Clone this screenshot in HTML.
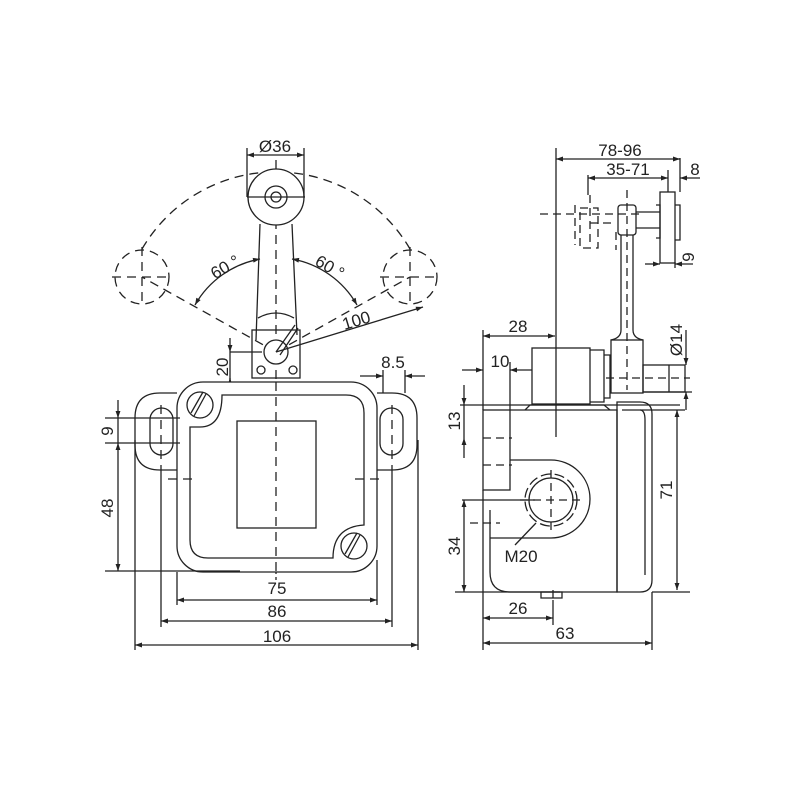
<!DOCTYPE html>
<html><head><meta charset="utf-8"><style>
html,body{margin:0;padding:0;background:#fff}
svg{display:block}
text{font-family:"Liberation Sans",sans-serif;font-size:17px;fill:#222}
</style></head><body>
<svg width="800" height="800" viewBox="0 0 800 800" xmlns="http://www.w3.org/2000/svg">
<defs>
<marker id="a" viewBox="0 0 10 10" refX="10" refY="5" markerWidth="12" markerHeight="7" orient="auto-start-reverse" markerUnits="userSpaceOnUse"><path d="M0,1.5 L10,5 L0,8.5z" fill="#222"/></marker>
</defs>
<g stroke="#222" stroke-width="1.3" fill="none">
<g stroke-dasharray="9,6">
<path d="M 142 249 A 155 155 0 0 1 410 249"/>
<path d="M 276 352 L 142 277 M 276 352 L 410 277"/>
<circle cx="142" cy="277" r="27"/>
<circle cx="410" cy="277" r="27"/>
<path d="M112 277 H172 M142 247 V307 M380 277 H440 M410 247 V307"/>
<path d="M276 160 V580"/>
</g>
<circle cx="276" cy="197" r="28" fill="#fff"/>
<circle cx="276" cy="197" r="11"/>
<circle cx="276" cy="197" r="5"/>
<path d="M247 197 H305"/>
<path d="M260 224 L256 340 M292 224 L297 335" />
<path d="M258 318 Q276 308 294 318"/>
<rect x="252" y="330" width="48" height="48"/>
<circle cx="276" cy="352" r="12" fill="#fff"/>
<path d="M276 352 L295 325 M280 355 L298 328"/>
<circle cx="261" cy="370" r="4"/><circle cx="293" cy="370" r="4"/>
<path d="M260 259 A 94 94 0 0 0 195 305" marker-start="url(#a)" marker-end="url(#a)"/>
<path d="M292 259 A 94 94 0 0 1 357 305" marker-start="url(#a)" marker-end="url(#a)"/>
<path d="M276 352 L423 307" marker-end="url(#a)"/>
<path d="M230 352 H262 M230 338 V352" marker-end="url(#a)"/>
<path d="M230 395 V378" marker-end="url(#a)"/>
<path d="M230 352 V395"/>
<path d="M177 393 H160 Q135 393 135 418 V445 Q135 470 160 470 H177"/>
<path d="M377 393 H392 Q417 393 417 418 V445 Q417 470 392 470 H377"/>
<rect x="150" y="408" width="23" height="47" rx="11.5"/>
<rect x="380" y="408" width="23" height="47" rx="11.5"/>
<rect x="177" y="382" width="200" height="190" rx="26" fill="#fff"/>
<path d="M190 427 V540 Q190 558 208 558 H333 Q333 527 364 525 V413 Q364 395 346 395 H222 Q222 427 200 427 H190Z"/>
<rect x="237" y="421" width="79" height="107"/>
<circle cx="200" cy="405" r="13"/><path d="M194 416 L206 394 M191 413 L203 392"/>
<circle cx="354" cy="546" r="13"/><path d="M348 557 L360 535 M345 554 L357 533"/>
<g stroke-dasharray="9,6"><path d="M276 382 V580 M161 405 V470 M392 405 V470 M168 479 H194 M355 479 H385"/></g>
<path d="M105 418 H180 M105 443 H180 M105 571 H240"/>
<path d="M118 400 V418" marker-end="url(#a)"/>
<path d="M118 443 V571" marker-start="url(#a)" marker-end="url(#a)"/>
<path d="M118 418 V443"/>
<path d="M177 572 V605 M377 560 V605 M161 470 V627 M392 470 V627 M135 440 V650 M418 440 V650"/>
<path d="M177 600 H377" marker-start="url(#a)" marker-end="url(#a)"/>
<path d="M161 621 H392" marker-start="url(#a)" marker-end="url(#a)"/>
<path d="M135 645 H418" marker-start="url(#a)" marker-end="url(#a)"/>
<path d="M383 370 V393 M405 370 V393"/>
<path d="M360 376 H383" marker-end="url(#a)"/><path d="M425 376 H405" marker-end="url(#a)"/>
<path d="M247 148 V197 M304 148 V197"/>
<path d="M247 155 H304" marker-start="url(#a)" marker-end="url(#a)"/>

<path d="M556 148 V437"/>
<rect x="532" y="348" width="58" height="56"/>
<path d="M590 350 H604 V402 H590 M604 355 H610 V398 H604"/>
<path d="M525 410 L530 405 H604 L610 410"/>
<rect x="618" y="205" width="18" height="30" rx="3"/>
<path d="M621 235 V330 Q621 338 611 340 M633 235 V330 Q633 338 643 340"/>
<rect x="611" y="340" width="32" height="53"/>
<rect x="643" y="365" width="42" height="27"/>
<path d="M669 365 V392"/>
<rect x="660" y="192" width="15" height="71"/>
<path d="M636 212 H660 M636 228 H660 M656 205 H660 V238 H656 M675 205 H680 V240 H675"/>
<g stroke-dasharray="8,5">
<path d="M627 190 V390 M540 214 H640 M606 378 H690 M590 223 H612 M575 205 V245 M590 195 V245 M616 232 V250"/>
<rect x="580" y="208" width="18" height="40"/>
</g>
<rect x="483" y="410" width="27" height="80"/>
<path d="M510 410 H617 V592 H510 Q490 592 490 572 V510"/>
<path d="M510 460 H551 A39 39 0 0 1 551 538 H490"/>
<circle cx="551" cy="500" r="22"/>
<circle cx="551" cy="500" r="26" stroke-dasharray="10,4"/>
<path d="M541 592 H562 V598 H541Z"/>
<path d="M617 402 H640 Q652 402 652 414 V580 Q652 592 640 592 H617Z"/>
<path d="M640 410 Q645 410 645 420 V575"/>
<g stroke-dasharray="8,5"><path d="M520 500 H585 M551 470 V530 M483 438 H512 M483 465 H512 M470 523 H500 M553 590 V600"/></g>
<path d="M536 523 L515 545"/>
<path d="M556 159 H680" marker-start="url(#a)" marker-end="url(#a)"/>
<path d="M680 158 V192"/>
<path d="M588 178 H668" marker-start="url(#a)" marker-end="url(#a)"/>
<path d="M668 170 V192 M588 175 V195"/>
<path d="M700 178 H680" marker-end="url(#a)"/>
<path d="M645 264 H660" marker-end="url(#a)"/><path d="M693 264 H675" marker-end="url(#a)"/>
<path d="M675 262 V268"/>
<path d="M686 330 V365" marker-end="url(#a)"/><path d="M686 410 V392" marker-end="url(#a)"/>
<path d="M643 392 H692"/>
<path d="M483 336 H555" marker-start="url(#a)" marker-end="url(#a)"/>
<path d="M483 330 V410 M510 362 V410"/>
<path d="M462 370 H483" marker-end="url(#a)"/><path d="M532 370 H510" marker-end="url(#a)"/>
<path d="M460 405 H680"/>
<path d="M464 385 V405" marker-end="url(#a)"/><path d="M464 458 V438" marker-end="url(#a)"/>
<path d="M464 405 V438"/>
<path d="M462 500 H535 M455 592 H560"/>
<path d="M464 500 V592" marker-start="url(#a)" marker-end="url(#a)"/>
<path d="M622 410 H685 M652 592 H690"/>
<path d="M677 410 V590" marker-start="url(#a)" marker-end="url(#a)"/>
<path d="M483 490 V650 M553 600 V625 M652 592 V650"/>
<path d="M483 618 H553" marker-start="url(#a)" marker-end="url(#a)"/>
<path d="M483 643 H652" marker-start="url(#a)" marker-end="url(#a)"/>
</g>
<text x="275" y="152" text-anchor="middle" font-size="15">Ø36</text>
<text x="228" y="272" text-anchor="middle" transform="rotate(-30 228 272)" font-size="15">60 °</text>
<text x="327" y="272" text-anchor="middle" transform="rotate(30 327 272)" font-size="15">60 °</text>
<text x="358" y="326" text-anchor="middle" transform="rotate(-17 358 326)" font-size="15">100</text>
<text x="228" y="367" text-anchor="middle" transform="rotate(-90 228 367)" font-size="15">20</text>
<text x="393" y="368" text-anchor="middle" font-size="18">8.5</text>
<text x="113" y="431" text-anchor="middle" transform="rotate(-90 113 431)" font-size="18">9</text>
<text x="113" y="508" text-anchor="middle" transform="rotate(-90 113 508)" font-size="18">48</text>
<text x="277" y="594" text-anchor="middle" font-size="18">75</text>
<text x="277" y="617" text-anchor="middle" font-size="18">86</text>
<text x="277" y="642" text-anchor="middle" font-size="18">106</text>
<text x="620" y="156" text-anchor="middle" font-size="15">78-96</text>
<text x="628" y="175" text-anchor="middle" font-size="15">35-71</text>
<text x="695" y="175" text-anchor="middle" font-size="15">8</text>
<text x="694" y="257" text-anchor="middle" transform="rotate(-90 694 257)" font-size="15">9</text>
<text x="682" y="340" text-anchor="middle" transform="rotate(-90 682 340)" font-size="15">Ø14</text>
<text x="518" y="332" text-anchor="middle" font-size="18">28</text>
<text x="500" y="367" text-anchor="middle" font-size="18">10</text>
<text x="460" y="421" text-anchor="middle" transform="rotate(-90 460 421)" font-size="18">13</text>
<text x="460" y="546" text-anchor="middle" transform="rotate(-90 460 546)" font-size="18">34</text>
<text x="521" y="562" text-anchor="middle" font-size="18">M20</text>
<text x="672" y="490" text-anchor="middle" transform="rotate(-90 672 490)" font-size="18">71</text>
<text x="518" y="614" text-anchor="middle" font-size="18">26</text>
<text x="565" y="639" text-anchor="middle" font-size="18">63</text>
</svg>
</body></html>
